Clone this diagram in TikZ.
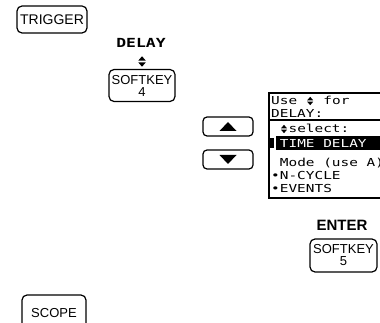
\documentclass[tikz,border=0pt]{standalone}
\usepackage{fontspec}
\setmainfont{Liberation Sans}
\newfontfamily\lcd[FakeStretch=1.31]{DejaVu Sans Mono}
\usetikzlibrary{calc}
\begin{document}
\begin{tikzpicture}[x=1pt,y=-1pt,
  keybox/.style={draw, line width=1.2pt, rounded corners=5pt, inner sep=0pt, align=center},
  lcdtxt/.style={anchor=base west, inner sep=0pt, font=\lcd\fontsize{11}{11}\selectfont},
  lbl/.style={anchor=base, inner sep=0pt},
  updn/.pic={\fill (-3,-0.7) -- (3,-0.7) -- (0,-4.2) -- cycle;
             \fill (-3,0.7) -- (3,0.7) -- (0,4.2) -- cycle;},
  thick line/.style={line width=1.2pt}]
\clip (0,0) rectangle (380,323);
\fill[white] (0,0) rectangle (380,323);

% TRIGGER key
\node[keybox, minimum width=70pt, minimum height=27pt, font=\fontsize{14}{14}\selectfont] (trigger) at (52,19.5) {TRIGGER};

% DELAY softkey 4
\node[lbl, font=\lcd\bfseries\fontsize{12.5}{12.5}\selectfont] (delay) at (141,48) {DELAY};
\pic[scale=1.25] at (142,61.5) {updn};
\node[keybox, minimum width=66pt, minimum height=32pt, font=\fontsize{13}{12}\selectfont] (sk4) at (142,85.5) {SOFTKEY\\4};

% arrow keys
\node[keybox, rounded corners=4pt, minimum width=50pt, minimum height=19pt] (up) at (228,126.5) {};
\fill ($(up.center)+(-8.5,4.5)$) -- ($(up.center)+(8.5,4.5)$) -- ($(up.center)+(0,-4.5)$) -- cycle;
\node[keybox, rounded corners=4pt, minimum width=50pt, minimum height=19pt] (down) at (228,159.5) {};
\fill ($(down.center)+(-8.5,-4.5)$) -- ($(down.center)+(8.5,-4.5)$) -- ($(down.center)+(0,4.5)$) -- cycle;

% display
\draw[thick line] (385,93) -- (269,93) -- (269,198) -- (385,198);
\draw[thick line] (269,120) -- (385,120);
\node[lcdtxt] (l1a) at (271,105) {Use};
\pic at (310.2,101) {updn};
\node[lcdtxt] (l1b) at (323.2,105) {for};
\node[lcdtxt] (l2) at (271,118) {DELAY:};
\pic at (284,129) {updn};
\node[lcdtxt] (l3) at (288.4,133) {select:};
\fill (276,136) rectangle (385,150.5);
\fill (270,138) rectangle (273.5,148.5);
\node[lcdtxt, text=white] (l4) at (279.7,147.5) {TIME DELAY};
\node[lcdtxt] (l5) at (279.7,167) {Mode (use A)};
\node[lcdtxt] (l6) at (271,180) {•N-CYCLE};
\node[lcdtxt] (l7) at (271,193) {•EVENTS};

% ENTER softkey 5
\node[lbl, font=\bfseries\fontsize{15}{15}\selectfont] (enter) at (342,230) {ENTER};
\node[keybox, minimum width=67pt, minimum height=33pt, font=\fontsize{13}{12}\selectfont] (sk5) at (343.5,255.5) {SOFTKEY\\5};

% SCOPE key
\node[keybox, minimum width=64pt, minimum height=36pt, font=\fontsize{13}{13}\selectfont] (scope) at (54,313) {SCOPE};
\end{tikzpicture}
\end{document}
